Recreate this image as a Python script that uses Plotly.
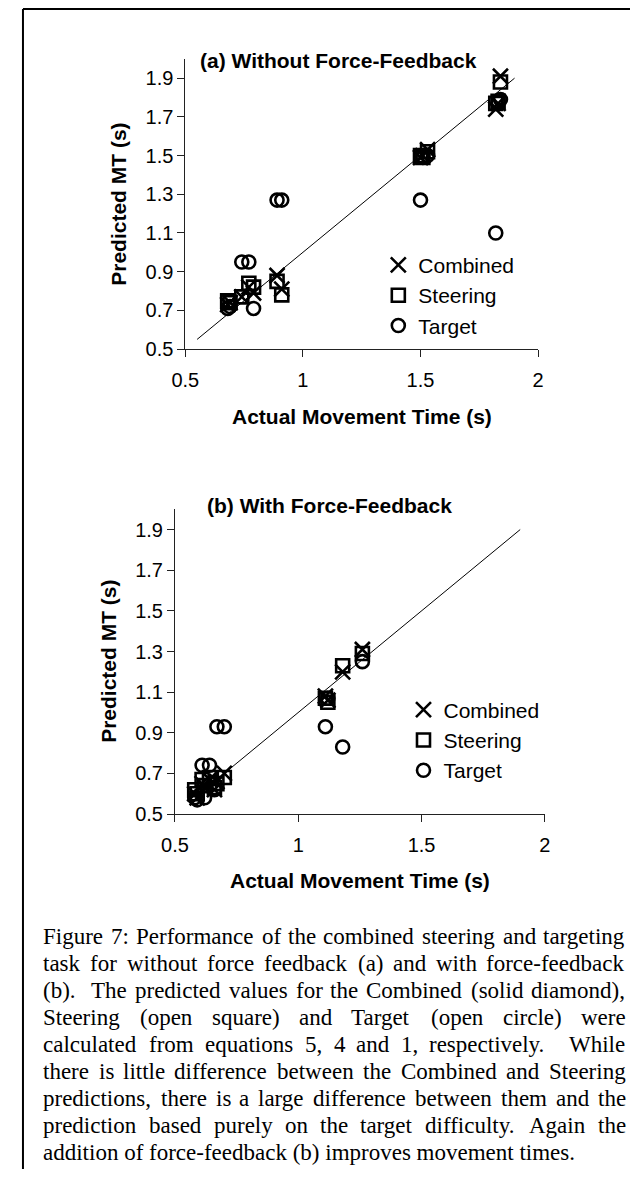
import plotly.graph_objects as go

# page (browser window) size and the 8px default body margin of the html page
PAGE_W, PAGE_H = 638, 1188
OFF = 8
FW, FH = PAGE_W - OFF, PAGE_H - 2 * OFF

# ---------------- data ----------------
series_names = ["Combined", "Steering", "Target"]

# (a) Without Force-Feedback
actual_a   = [0.68, 0.69, 0.74, 0.77, 0.79, 0.89, 0.91, 1.50, 1.51, 1.53, 1.82, 1.83, 1.84]
combined_a = [0.73, 0.74, 0.77, 0.82, 0.79, 0.88, 0.81, 1.49, 1.50, 1.53, 1.74, 1.77, 1.91]
steering_a = [0.75, 0.74, 0.77, 0.84, 0.82, 0.85, 0.78, 1.50, 1.49, 1.52, 1.77, 1.78, 1.88]
target_a   = [0.71, 0.72, 0.95, 0.95, 0.71, 1.27, 1.27, 1.27, 1.49, 1.50, 1.10, 1.78, 1.79]

# (b) With Force-Feedback
actual_b   = [0.58, 0.59, 0.61, 0.62, 0.64, 0.66, 0.67, 0.70, 1.11, 1.12, 1.18, 1.26]
combined_b = [0.60, 0.58, 0.65, 0.63, 0.67, 0.62, 0.66, 0.70, 1.08, 1.06, 1.20, 1.31]
steering_b = [0.62, 0.60, 0.67, 0.64, 0.68, 0.63, 0.65, 0.68, 1.07, 1.05, 1.23, 1.29]
target_b   = [0.58, 0.57, 0.74, 0.58, 0.74, 0.62, 0.93, 0.93, 0.93, 1.07, 0.83, 1.25]

# y = x reference lines
fit_a = [0.55, 1.90]
fit_b = [0.60, 1.90]

x_ticks = [0.5, 1.0, 1.5, 2.0]
x_tick_labels = ["0.5", "1", "1.5", "2"]
y_ticks = [0.5, 0.7, 0.9, 1.1, 1.3, 1.5, 1.7, 1.9]
y_tick_labels = ["0.5", "0.7", "0.9", "1.1", "1.3", "1.5", "1.7", "1.9"]

title_a = "(a) Without Force-Feedback"
title_b = "(b) With Force-Feedback"
x_title = "Actual Movement Time (s)"
y_title = "Predicted MT (s)"

caption_lines = [
    "Figure 7: Performance of the combined steering and targeting",
    "task for without force feedback (a) and with force-feedback",
    "(b).  The predicted values for the Combined (solid diamond),",
    "Steering (open square) and Target (open circle) were",
    "calculated from equations 5, 4 and 1, respectively.  While",
    "there is little difference between the Combined and Steering",
    "predictions, there is a large difference between them and the",
    "prediction based purely on the target difficulty. Again the",
    "addition of force-feedback (b) improves movement times.",
]

# ---------------- helpers (page pixel -> paper) ----------------
def pxx(x):
    return (x - OFF) / FW

def pyy(y):
    return 1 - (y - OFF) / FH

# Times New Roman (== Liberation Serif) advance widths, 1/1000 em
TNR = {' ': 250, '(': 333, ')': 333, ',': 250, '-': 333, '.': 250, ':': 278,
       '0': 500, '1': 500, '2': 500, '3': 500, '4': 500, '5': 500, '6': 500,
       '7': 500, '8': 500, '9': 500,
       'A': 722, 'B': 667, 'C': 667, 'D': 722, 'E': 611, 'F': 556, 'G': 722,
       'H': 722, 'I': 333, 'J': 389, 'K': 722, 'L': 611, 'M': 889, 'N': 722,
       'O': 722, 'P': 556, 'Q': 722, 'R': 667, 'S': 556, 'T': 611, 'U': 722,
       'V': 722, 'W': 944, 'X': 722, 'Y': 722, 'Z': 611,
       'a': 444, 'b': 500, 'c': 444, 'd': 500, 'e': 444, 'f': 333, 'g': 500,
       'h': 500, 'i': 278, 'j': 278, 'k': 500, 'l': 278, 'm': 778, 'n': 500,
       'o': 500, 'p': 500, 'q': 500, 'r': 333, 's': 389, 't': 278, 'u': 500,
       'v': 500, 'w': 722, 'x': 500, 'y': 500, 'z': 444}
RENDER_FACTOR = 1.047  # hinted glyph advances render slightly wider

def tw(s, size):
    return sum(TNR.get(c, 500) for c in s) * size / 1000.0 * RENDER_FACTOR

# ---------------- figure ----------------
fig = go.Figure()

styles = {
    "Combined": dict(symbol="x-thin-open", size=15),
    "Steering": dict(symbol="square-open", size=13),
    "Target": dict(symbol="circle-open", size=13),
}

panels = [
    ("x", "y", "legend", fit_a, actual_a, [combined_a, steering_a, target_a]),
    ("x2", "y2", "legend2", fit_b, actual_b, [combined_b, steering_b, target_b]),
]

for xa, ya, leg, fit, xs, ys_list in panels:
    fig.add_trace(go.Scatter(x=fit, y=fit, mode="lines", xaxis=xa, yaxis=ya,
                             line=dict(color="black", width=1), showlegend=False,
                             hoverinfo="skip"))
    for name, ys in zip(series_names, ys_list):
        st = styles[name]
        fig.add_trace(go.Scatter(
            x=xs, y=ys, mode="markers", name=name, xaxis=xa, yaxis=ya, legend=leg,
            marker=dict(symbol=st["symbol"], size=st["size"], color="black",
                        line=dict(color="black", width=2.6))))

SANS = "Liberation Sans, Arial, sans-serif"

def xaxis_cfg(domain, anchor):
    return dict(domain=domain, anchor=anchor, range=[0.5, 2.0], tickvals=x_ticks,
                ticktext=x_tick_labels, showline=True, linecolor="#222", linewidth=1,
                ticks="outside", ticklen=7, tickcolor="#222", tickwidth=1,
                showgrid=False, zeroline=False, ticklabelstandoff=6,
                tickfont=dict(family=SANS, size=20, color="black"), fixedrange=True)

def yaxis_cfg(domain, anchor):
    return dict(domain=domain, anchor=anchor, range=[0.5, 2.0], tickvals=y_ticks,
                ticktext=y_tick_labels, showline=True, linecolor="#222", linewidth=1,
                ticks="outside", ticklen=7, tickcolor="#222", tickwidth=1,
                showgrid=False, zeroline=False,
                tickfont=dict(family=SANS, size=20, color="black"), fixedrange=True)

# page-pixel geometry of the two plot areas
a_l, a_r, a_t, a_b = 176.7, 541.0, 59.3, 352.3
b_l, b_r, b_t, b_b = 166.0, 548.0, 514.0, 821.7

legend_common = dict(xanchor="left", yanchor="top", bgcolor="rgba(0,0,0,0)",
                     borderwidth=0, itemwidth=30, tracegroupgap=0,
                     font=dict(family=SANS, size=21, color="black"))

fig.update_layout(
    width=FW, height=FH, margin=dict(l=0, r=0, t=0, b=0),
    paper_bgcolor="white", plot_bgcolor="white",
    xaxis=xaxis_cfg([pxx(a_l), pxx(a_r)], "y"),
    yaxis=yaxis_cfg([pyy(a_b), pyy(a_t)], "x"),
    xaxis2=xaxis_cfg([pxx(b_l), pxx(b_r)], "y2"),
    yaxis2=yaxis_cfg([pyy(b_b), pyy(b_t)], "x2"),
    legend=dict(x=pxx(376), y=pyy(247), **legend_common),
    legend2=dict(x=pxx(402), y=pyy(696), **legend_common),
    showlegend=True,
)

ann = []
def text(t, x, y, size=21, bold=True, angle=0, xanchor="center", family=SANS):
    ann.append(dict(text=("<b>%s</b>" % t) if bold else t, x=pxx(x), y=pyy(y),
                    xref="paper", yref="paper", showarrow=False, textangle=angle,
                    xanchor=xanchor, yanchor="middle",
                    font=dict(family=family, size=size, color="black")))

text(title_a, 335, 61)
text(title_b, 326, 510)
text(x_title, (a_l + a_r) / 2, 420)
text(x_title, (b_l + b_r) / 2, 889)
text(y_title, 108, (a_t + a_b) / 2, angle=-90)
text(y_title, 97, (b_t + b_b) / 2, angle=-90)

# caption: justified lines (word by word), last line left aligned
CAP_SIZE = 23
cap_left, cap_right = 29.0, 631.0
cap_y0, cap_dy = 945.0, 27.3
SERIF = "Liberation Serif, Times New Roman, serif"
for i, line in enumerate(caption_lines):
    yline = cap_y0 + i * cap_dy
    if i == len(caption_lines) - 1:
        text(line, cap_left - 1, yline, size=CAP_SIZE, bold=False, xanchor="left",
             family=SERIF)
        continue
    words = line.split(" ")
    toks = []
    spaces = 0
    for w in words:
        if w == "":
            spaces += 1
            continue
        toks.append((w, spaces if toks else 0))
        spaces = 1
    n_sp = sum(s for _, s in toks)
    natural = sum(tw(w, CAP_SIZE) for w, _ in toks) + n_sp * tw(" ", CAP_SIZE)
    extra = max(0.0, (cap_right - cap_left - natural) / n_sp)
    sp = tw(" ", CAP_SIZE) + extra
    x = cap_left
    for w, s in toks:
        x += s * sp
        text(w, x - 1, yline, size=CAP_SIZE, bold=False, xanchor="left", family=SERIF)
        x += tw(w, CAP_SIZE)

fig.update_layout(annotations=ann)

fig.update_layout(shapes=[
    dict(type="line", xref="paper", yref="paper", x0=pxx(OFF + 1), x1=1.0,
         y0=pyy(OFF + 1), y1=pyy(OFF + 1), line=dict(color="black", width=2)),
    dict(type="line", xref="paper", yref="paper", x0=pxx(OFF + 1), x1=pxx(OFF + 1),
         y0=pyy(OFF + 1), y1=0.0, line=dict(color="black", width=2)),
])

fig.write_html("out.html")
